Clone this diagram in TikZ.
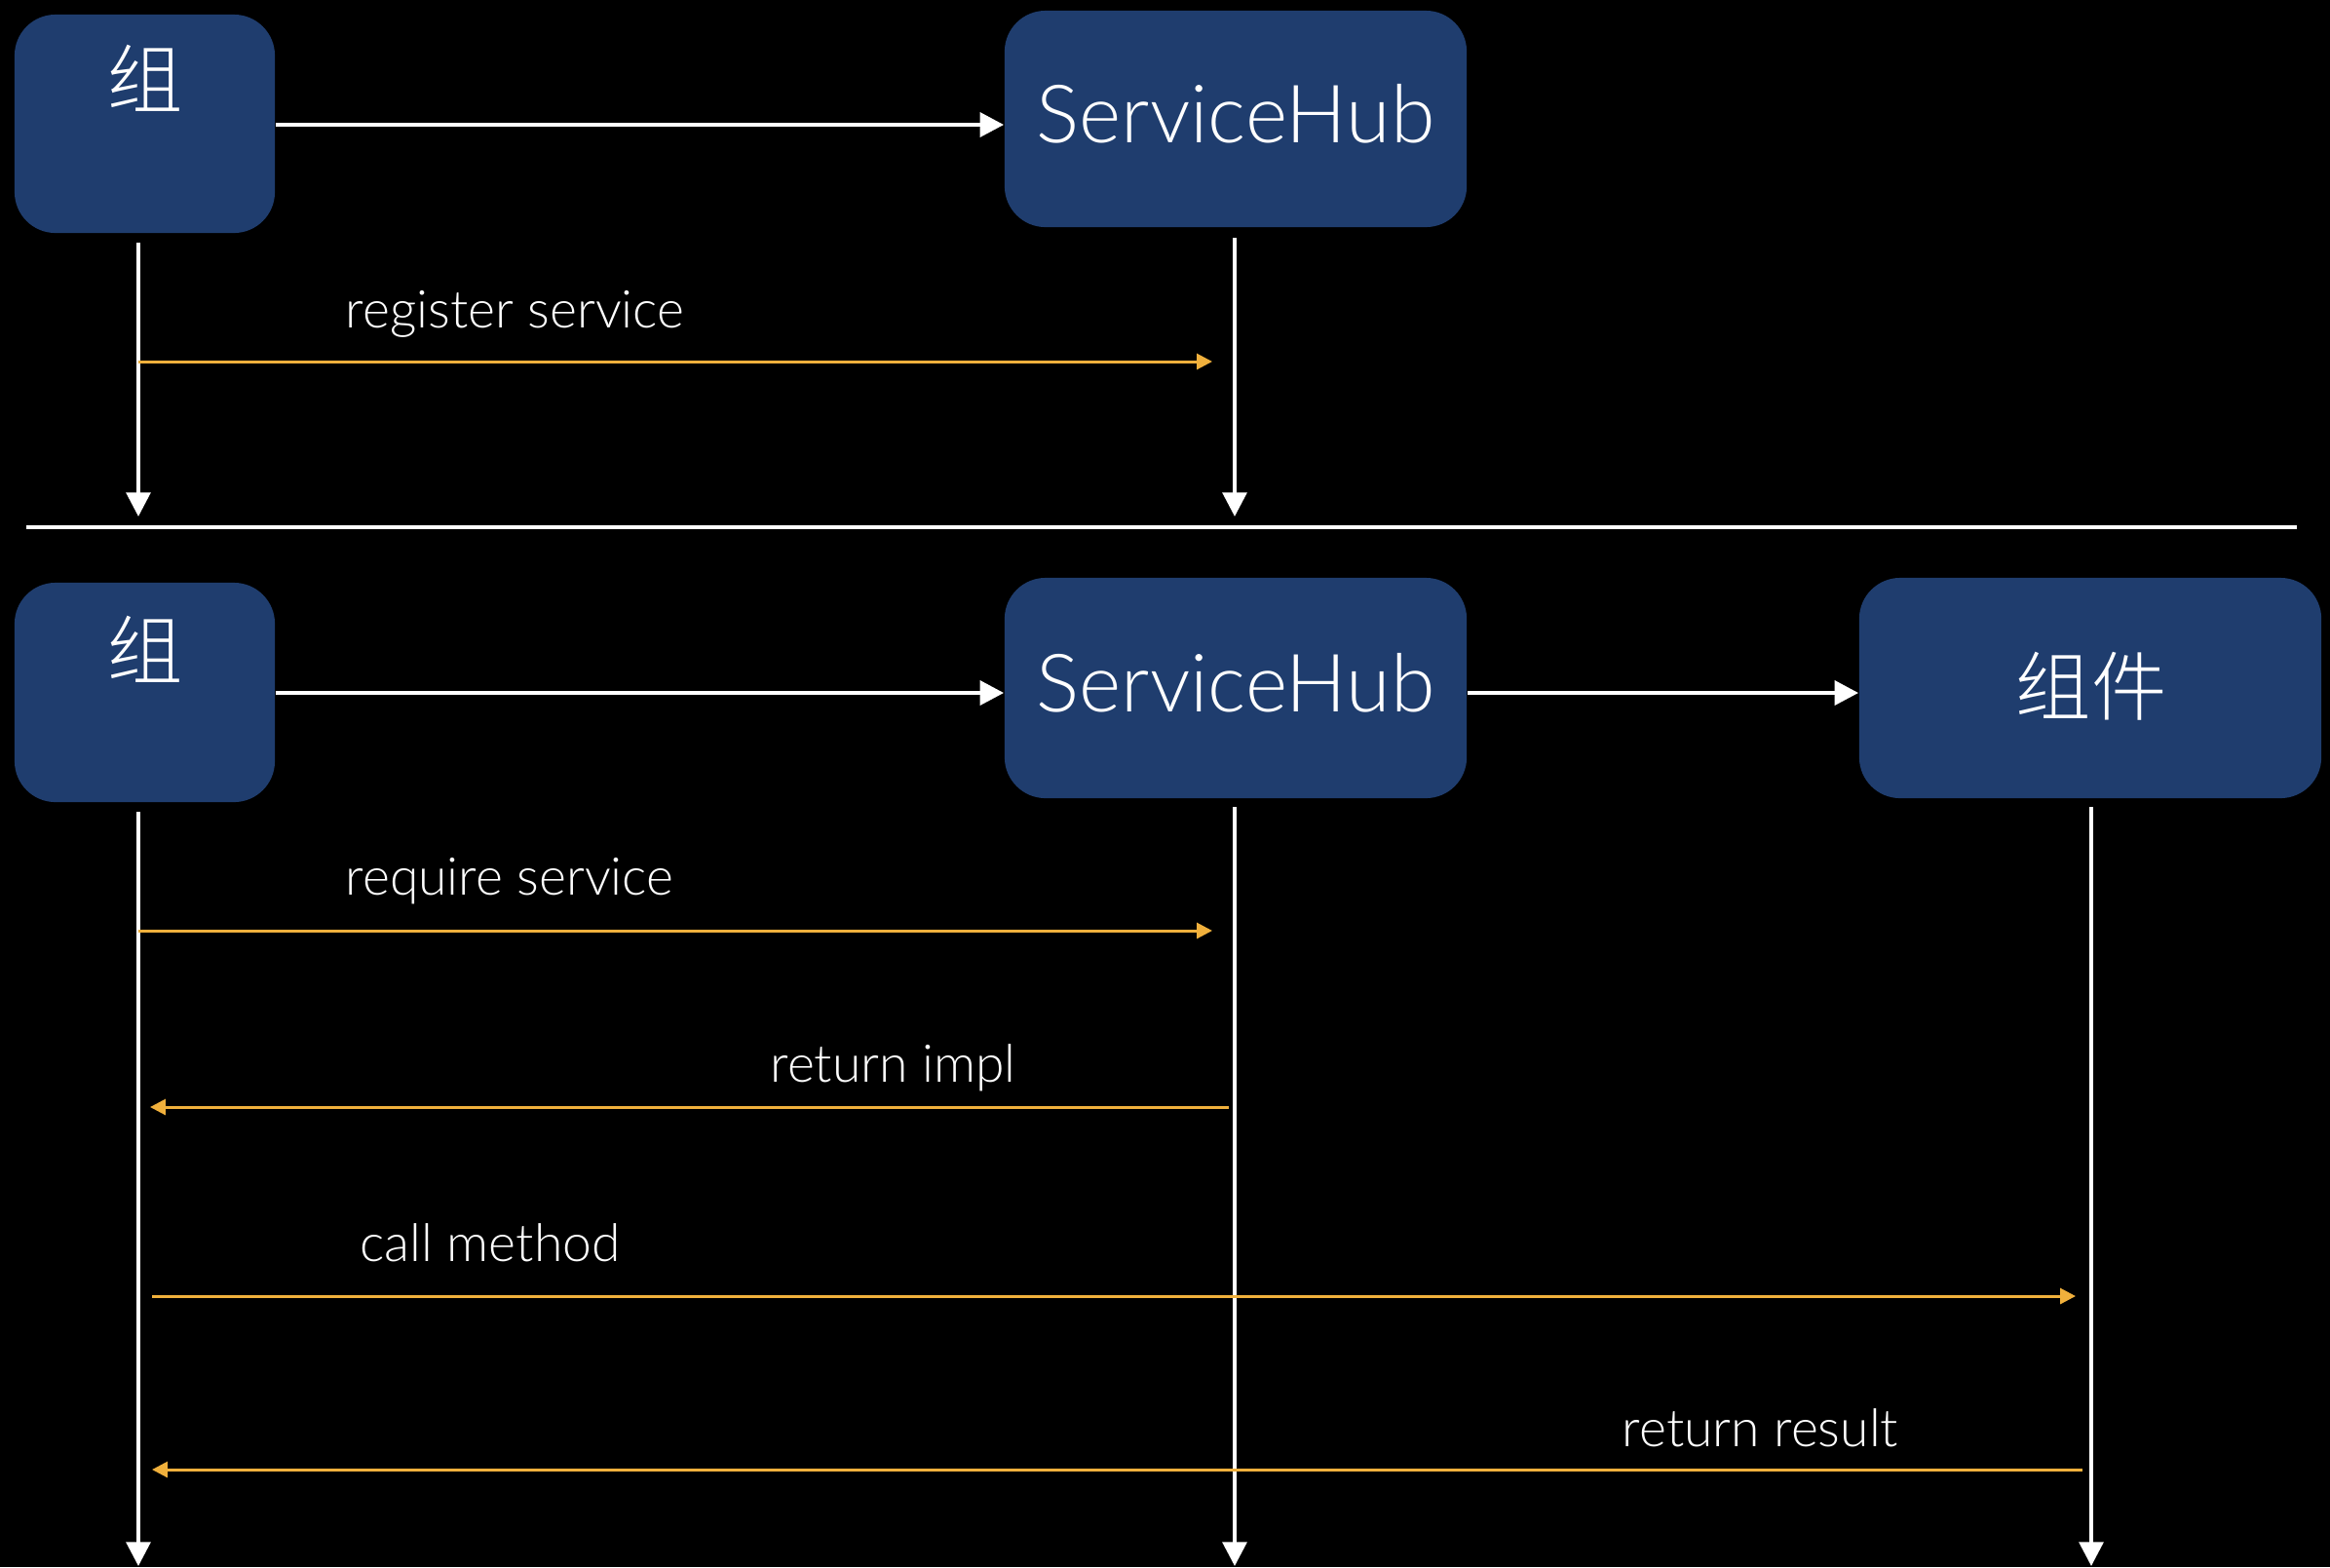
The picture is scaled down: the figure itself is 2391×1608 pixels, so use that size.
\documentclass[tikz,border=0pt]{standalone}
\usepackage{fontspec}
\setmainfont{Lato}[UprightFont={* Light}]
\newfontfamily\cjk{Noto Sans CJK SC}[UprightFont={* Light}]
\usetikzlibrary{arrows.meta}
\definecolor{boxblue}{RGB}{31,61,110}
\definecolor{msgorange}{RGB}{240,176,60}
\tikzset{
  box/.style={fill=boxblue, rounded corners=0.42cm, inner sep=0pt},
  boxtxt/.style={text=white, font=\fontsize{23.5}{27}\selectfont, inner sep=0pt},
  cjktxt/.style={text=white, font=\cjk\fontsize{22}{26}\selectfont, inner sep=0pt},
  flow/.style={white, line width=1.4pt, -{Triangle[length=7pt,width=7pt]}},
  life/.style={white, line width=1.1pt, -{Triangle[length=7pt,width=7pt]}},
  msg/.style={msgorange, line width=0.85pt, -{Triangle[length=4.5pt,width=4.5pt]}},
  lbl/.style={text=white, font=\fontsize{15.2}{18}\selectfont, inner sep=0pt, anchor=base west},
}
\begin{document}
\begin{tikzpicture}[x=0.01cm, y=-0.01cm]
\fill[black] (0,0) rectangle (2391,1608);
\useasboundingbox (0,0) rectangle (2391,1608);
% top section
\node[box, minimum width=2.67cm, minimum height=2.24cm] (a1) at (148.5,127) {};
\node[cjktxt] (a1t) at (149,80) {组};
\node[box, minimum width=4.74cm, minimum height=2.22cm] (h1) at (1268,122) {};
\node[boxtxt] (h1t) at (1268,117) {ServiceHub};
\draw[flow] (a1.east |- 0,128) -- (h1.west |- 0,128);
\coordinate (a1s) at (142,249);
\coordinate (a1e) at (142,530);
\coordinate (h1s) at (1267,244);
\coordinate (h1e) at (1267,530);
\draw[life] (a1s) -- (a1e);
\draw[life] (h1s) -- (h1e);
\coordinate (m1s) at (142,371);
\coordinate (m1e) at (1244,371);
\draw[msg] (m1s) -- (m1e);
\node[lbl] (m1l) at (354,336) {register service};
% separator
\coordinate (sepL) at (27,541);
\coordinate (sepR) at (2357,541);
\draw[white, line width=1.4pt] (sepL) -- (sepR);
% bottom section
\node[box, minimum width=2.67cm, minimum height=2.25cm] (a2) at (148.5,710.5) {};
\node[cjktxt] (a2t) at (149,666) {组};
\node[box, minimum width=4.74cm, minimum height=2.26cm] (h2) at (1268,706) {};
\node[boxtxt] (h2t) at (1268,701) {ServiceHub};
\node[box, minimum width=4.74cm, minimum height=2.26cm] (c2) at (2145,706) {};
\node[cjktxt] (c2t) at (2146,704) {组件};
\draw[flow] (a2.east |- 0,711) -- (h2.west |- 0,711);
\draw[flow] (h2.east |- 0,711) -- (c2.west |- 0,711);
\coordinate (a2s) at (142,833);
\coordinate (a2e) at (142,1607);
\coordinate (h2s) at (1267,828);
\coordinate (h2e) at (1267,1607);
\coordinate (c2s) at (2146,828);
\coordinate (c2e) at (2146,1607);
\draw[life] (a2s) -- (a2e);
\draw[life] (h2s) -- (h2e);
\draw[life] (c2s) -- (c2e);
% messages
\coordinate (r1s) at (142,955);
\coordinate (r1e) at (1244,955);
\draw[msg] (r1s) -- (r1e);
\node[lbl] (r1l) at (354,918) {require service};
\coordinate (r2s) at (1261,1136);
\coordinate (r2e) at (154,1136);
\draw[msg] (r2s) -- (r2e);
\node[lbl] (r2l) at (790,1110) {return impl};
\coordinate (r3s) at (156,1330);
\coordinate (r3e) at (2130,1330);
\draw[msg] (r3s) -- (r3e);
\node[lbl] (r3l) at (369,1294) {call method};
\coordinate (r4s) at (2137,1508);
\coordinate (r4e) at (156,1508);
\draw[msg] (r4s) -- (r4e);
\node[lbl] (r4l) at (1664,1484) {return result};
\end{tikzpicture}
\end{document}
